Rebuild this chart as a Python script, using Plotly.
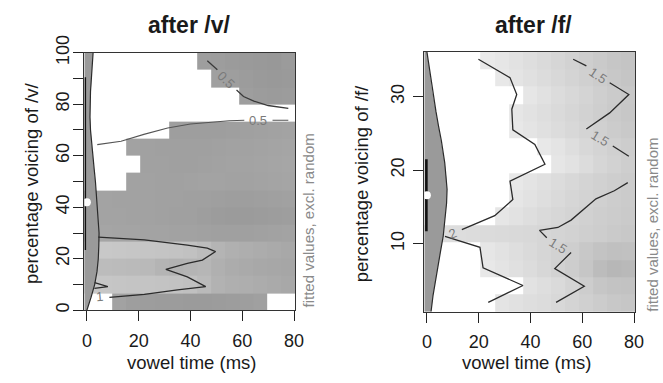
import plotly.graph_objects as go

W = None  # cell outside the plotted value range (left blank / white)

# ---------------- grids ----------------
time_grid = [1.7, 7.2, 12.6, 18.0, 23.5, 28.9, 34.3, 39.8, 45.2, 50.6, 56.0, 61.5, 66.9, 72.3, 77.8]
voicing_grid_v = [3.3, 10.0, 16.7, 23.3, 30.0, 36.7, 43.3, 50.0, 56.7, 63.3, 70.0, 76.7, 83.3, 90.0, 96.7]
voicing_grid_f = [1.9, 4.3, 6.6, 9.0, 11.4, 13.7, 16.1, 18.4, 20.8, 23.2, 25.5, 27.9, 30.2, 32.6, 35.0]

# shade (0 = black, 255 = white), rows from bottom to top
shade_v = [
    [W, W, 162, 158, 157, 156, 156, 155, 155, 156, 157, 158, 160, W, W],
    [200, 198, 197, 196, 196, 195, 194, 192, 186, 178, 175, 174, 172, 170, 168],
    [190, 188, 187, 186, 185, 180, 178, 180, 182, 176, 172, 170, 168, 167, 166],
    [200, 200, 199, 198, 197, 196, 195, 193, 188, 180, 176, 174, 172, 170, 168],
    [166, 165, 164, 164, 163, 163, 162, 162, 161, 160, 160, 160, 161, 162, 163],
    [164, 163, 163, 162, 162, 161, 160, 160, 158, 156, 155, 155, 156, 157, 158],
    [163, 163, 162, 162, 162, 161, 161, 160, 160, 159, 158, 158, 159, 160, 161],
    [W, W, W, 162, 162, 161, 161, 162, 163, 163, 162, 162, 163, 164, 165],
    [W, W, W, W, 161, 161, 160, 160, 161, 162, 163, 163, 164, 165, 166],
    [W, W, W, 162, 161, 160, 160, 160, 160, 161, 162, 162, 163, 164, 165],
    [W, W, W, W, W, W, 158, 158, 158, 158, 159, 160, 161, 162, 163],
    [W, W, W, W, W, W, W, W, W, W, W, W, W, W, W],
    [W, W, W, W, W, W, W, W, W, W, W, 158, 156, 155, 156],
    [W, W, W, W, W, W, W, W, W, 160, 158, 156, 154, 153, 154],
    [W, W, W, W, W, W, W, W, 158, 157, 155, 154, 153, 152, 155],
]
shade_f = [
    [W, W, W, W, W, 228, 225, 222, 220, 216, 212, 208, 204, 200, 198],
    [W, W, W, W, W, W, W, 226, 222, 218, 212, 205, 198, 195, 194],
    [W, W, W, W, 232, 228, 224, 220, 215, 210, 205, 198, 188, 183, 185],
    [W, W, W, W, 230, 226, 222, 218, 214, 210, 206, 200, 195, 192, 193],
    [222, 222, 221, 220, 219, 218, 217, 216, 214, 212, 210, 207, 205, 202, 200],
    [W, W, W, W, W, 230, 226, 222, 218, 215, 212, 209, 206, 204, 202],
    [W, W, W, W, W, W, 230, 226, 222, 218, 214, 211, 208, 205, 203],
    [W, W, W, W, W, W, 232, 228, 224, 220, 216, 212, 209, 206, 204],
    [W, W, W, W, W, W, W, W, W, 230, 226, 220, 214, 210, 206],
    [W, W, W, W, W, W, W, W, 232, 228, 222, 216, 212, 208, 205],
    [W, W, W, W, W, W, 232, 228, 224, 220, 216, 212, 208, 204, 201],
    [W, W, W, W, W, W, 230, 226, 222, 218, 214, 210, 206, 202, 199],
    [W, W, W, W, W, W, W, 230, 225, 220, 216, 212, 207, 203, 200],
    [W, W, W, W, W, 232, 228, 224, 220, 216, 212, 208, 204, 200, 197],
    [W, W, W, W, 233, 230, 226, 222, 218, 214, 210, 206, 202, 198, 196],
]

# ---------------- density of voicing (drawn sideways) ----------------
dens_v_y = [100, 95, 90, 85, 80, 75, 70, 65, 60, 55, 50, 45, 40, 35, 30, 25, 20, 15, 10, 5, 0]
dens_v_x = [2.4, 2.0, 1.7, 1.4, 1.3, 1.2, 1.4, 1.8, 2.3, 2.8, 3.3, 3.7, 4.0, 4.4, 4.7, 4.6, 4.4, 3.9, 3.0, 1.6, 0.0]
dens_f_y = [36.13, 34, 31, 28, 26, 24, 21, 19, 17.4, 15.5, 13.3, 11, 8.8, 7, 5.1, 3, 1.0, 0.73]
dens_f_x = [0.0, 0.9, 2.0, 3.5, 4.5, 5.6, 6.9, 7.5, 7.8, 7.6, 7.1, 6.3, 5.2, 4.3, 3.3, 2.4, 1.7, 1.6]

median_v, interval_v = 41.9, [23.4, 90.5]
median_f, interval_f = 16.6, [11.7, 21.5]

# ---------------- contour lines ----------------
c_v_05a_x = [46.5, 50.4, None, 57.8, 60.5, 64.5, 70.0, 77.8]
c_v_05a_y = [96.9, 93.4, None, 85.5, 83.0, 81.2, 79.5, 78.4]
c_v_05b_x = [4.0, 13.2, 22.0, 31.2, 40.0, 47.8, 55.0, 60.8, None, 71.7, 77.8]
c_v_05b_y = [64.3, 65.6, 68.3, 70.8, 72.3, 73.1, 73.6, 73.8, None, 73.8, 73.8]
c_v_1_x = [4.4, 22.2, 38.8, 46.5, 49.7, 44.6, 38.8, 30.5, 38.8, 45.9, 35.0, 22.2, 8.7, None, 3.0, 8.1, 2.9]
c_v_1_y = [28.4, 27.3, 25.3, 24.1, 22.8, 19.5, 18.2, 15.9, 13.0, 9.2, 7.9, 6.2, 5.0, None, 10.7, 9.2, 8.5]

c_f_2_x = [19.9, 32.1, 34.7, 32.8, 33.2, 41.7, 45.6, 32.1, 33.2, 26.2, 13.5, None,
           7.0, 20.5, 21.7, 37.1, 23.7]
c_f_2_y = [35.1, 32.6, 30.3, 28.3, 25.5, 23.5, 20.8, 18.5, 16.0, 13.8, 11.9, None,
           11.0, 9.5, 6.7, 4.3, 2.0]
c_f_15_x = [56.5, 61.6, None, 70.6, 78.0, 70.6, 61.6, None, 71.8, 78.0, None,
            77.6, 72.4, 65.3, 60.2, 55.7, 50.6, 43.5, 46.3, None,
            55.7, 49.4, 60.8, 49.9]
c_f_15_y = [35.1, 34.2, None, 31.9, 30.3, 27.8, 25.6, None, 23.3, 21.9, None,
            18.3, 17.2, 16.1, 14.6, 13.2, 12.2, 11.8, 10.8, None,
            8.8, 6.6, 4.2, 2.0]

# contour labels: (text, time, voicing, angle)
labels_v = [("0.5", 53.6, 89.5, 45), ("0.5", 66.2, 73.5, 0), ("1", 4.9, 5.5, -5)]
labels_f = [("1.5", 66.1, 32.9, 34), ("1.5", 67.0, 24.3, 32), ("1.5", 50.5, 9.7, 32), ("2", 10.0, 11.4, -22)]

FONT = "Liberation Sans, Arial, sans-serif"
LINE = "#2b2b2b"
gray_scale = [[0, "rgb(0,0,0)"], [1, "rgb(255,255,255)"]]

fig = go.Figure()

def add_panel(xa, ya, vgrid, shade, dens_x, dens_y, med, interval, ivl_x, ivl_w, contours, labels):
    fig.add_trace(go.Heatmap(x=time_grid, y=vgrid, z=shade, zmin=0, zmax=255,
                             colorscale=gray_scale, showscale=False, hoverinfo="skip",
                             xaxis=xa, yaxis=ya))
    px = [-1.0] + dens_x + [-1.0]
    py = [dens_y[0]] + dens_y + [dens_y[-1]]
    fig.add_trace(go.Scatter(x=px, y=py, mode="lines", fill="toself",
                             fillcolor="#9a9a9a", line=dict(color="#9a9a9a", width=0),
                             xaxis=xa, yaxis=ya, hoverinfo="skip"))
    fig.add_trace(go.Scatter(x=dens_x, y=dens_y, mode="lines",
                             line=dict(color=LINE, width=1.2),
                             xaxis=xa, yaxis=ya, hoverinfo="skip"))
    for cx, cy, col, w in contours:
        fig.add_trace(go.Scatter(x=cx, y=cy, mode="lines", connectgaps=False,
                                 line=dict(color=col, width=w),
                                 xaxis=xa, yaxis=ya, hoverinfo="skip"))
    fig.add_trace(go.Scatter(x=[ivl_x, ivl_x], y=interval, mode="lines",
                             line=dict(color="#111111", width=ivl_w),
                             xaxis=xa, yaxis=ya, hoverinfo="skip"))
    fig.add_trace(go.Scatter(x=[0], y=[med], mode="markers",
                             marker=dict(color="white", size=8, line=dict(width=0)),
                             xaxis=xa, yaxis=ya, hoverinfo="skip"))
    for t, lx, ly, ang in labels:
        fig.add_annotation(x=lx, y=ly, xref=xa, yref=ya, text=t, showarrow=False,
                           textangle=ang, font=dict(family=FONT, size=13, color="#7a7a7a"))

add_panel("x", "y", voicing_grid_v, shade_v, dens_v_x, dens_v_y, median_v, interval_v, -0.6, 1.5,
          [(c_v_05a_x, c_v_05a_y, "#3a3a3a", 1.3), (c_v_05b_x, c_v_05b_y, "#555555", 1.1),
           (c_v_1_x, c_v_1_y, LINE, 1.3)], labels_v)
add_panel("x2", "y2", voicing_grid_f, shade_f, dens_f_x, dens_f_y, median_f, interval_f, -0.2, 2.6,
          [(c_f_2_x, c_f_2_y, LINE, 1.3), (c_f_15_x, c_f_15_y, LINE, 1.3)], labels_f)

axis_common = dict(showgrid=False, zeroline=False, showline=True, mirror=True,
                   linecolor="#333333", linewidth=1, ticks="outside", ticklen=10,
                   tickcolor="#222222", tickwidth=1, automargin=False,
                   tickfont=dict(family=FONT, size=18, color="#1a1a1a"))

fig.update_layout(
    width=663, height=383, margin=dict(l=0, r=0, t=0, b=0),
    paper_bgcolor="white", plot_bgcolor="white", showlegend=False,
    xaxis=dict(domain=[0.12715, 0.44540], range=[-1, 80.5], tickvals=[0, 20, 40, 60, 80],
               ticklabelstandoff=4, **axis_common),
    yaxis=dict(domain=[0.18982, 0.86240], range=[0, 100],
               tickvals=[0, 10, 20, 30, 40, 50, 60, 70, 80, 90, 100],
               ticktext=["0", "", "20", "", "40", "", "60", "", "80", "", "100"],
               tickangle=-90, ticklabelstandoff=-3, **axis_common),
    xaxis2=dict(domain=[0.63997, 0.95822], range=[-1, 80.5], tickvals=[0, 20, 40, 60, 80],
                anchor="y2", ticklabelstandoff=4, **axis_common),
    yaxis2=dict(domain=[0.18616, 0.86501], range=[0.73, 36.13], tickvals=[10, 20, 30],
                anchor="x2", tickangle=-90, ticklabelstandoff=2, **axis_common),
)

titles = [
    ("after /v/", 0.2851, 0.9347, 0, 23, "#1a1a1a", True),
    ("after /f/", 0.8054, 0.9347, 0, 23, "#1a1a1a", True),
    ("vowel time (ms)", 0.2900, 0.0530, 0, 18.5, "#1a1a1a", False),
    ("vowel time (ms)", 0.7950, 0.0530, 0, 18.5, "#1a1a1a", False),
    ("percentage voicing of /v/", 0.0475, 0.5209, -90, 18.5, "#1a1a1a", False),
    ("percentage voicing of /f/", 0.5456, 0.5209, -90, 18.5, "#1a1a1a", False),
    ("fitted values, excl. random", 0.4646, 0.4243, -90, 15, "#8a8a8a", False),
    ("fitted values, excl. random", 0.9830, 0.4125, -90, 15, "#8a8a8a", False),
]
for t, x, y, ang, size, col, bold in titles:
    fig.add_annotation(x=x, y=y, xref="paper", yref="paper", text=f"<b>{t}</b>" if bold else t,
                       showarrow=False, textangle=ang, xanchor="center", yanchor="middle",
                       font=dict(family=FONT, size=size, color=col))

fig.write_html("out.html", config={"displayModeBar": False},
               post_script="document.body.style.margin='0px';")
